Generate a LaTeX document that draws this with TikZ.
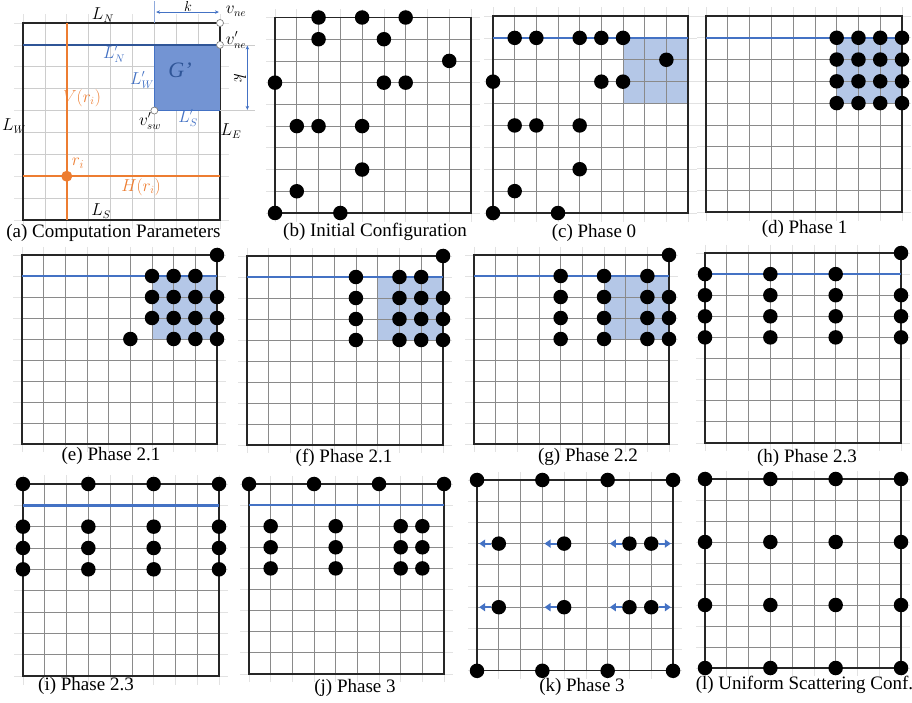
\documentclass[tikz,border=0pt]{standalone}
\usepackage{fontspec}
\setmainfont{Liberation Serif}
\usetikzlibrary{arrows.meta}
\definecolor{gridc}{HTML}{8A8A8A}
\definecolor{gridlt}{HTML}{CCCCCC}
\definecolor{gridext}{HTML}{E2E2E2}
\definecolor{bline}{HTML}{4472C4}
\definecolor{dblue}{HTML}{2F5597}
\definecolor{sqfill}{HTML}{B4C7E7}
\definecolor{gfill}{HTML}{7394D3}
\definecolor{orng}{HTML}{ED7D31}
\tikzset{
  framebox/.style={draw=black!85, line width=1.3pt},
  robot/.style={circle, fill=black, inner sep=0pt, minimum size=14.5pt},
  hollow/.style={circle, draw=gray, fill=white, line width=0.7pt, inner sep=0pt, minimum size=7pt},
  capt/.style={font=\fontsize{19}{22}\selectfont, inner sep=0pt},
  lbl/.style={font=\fontsize{16}{18}\selectfont, inner sep=0pt},
  toplinestyle/.style={draw=bline, line width=2.4pt},
  sqstyle/.style={fill=sqfill},
  barrow/.style={draw=bline, line width=2.2pt, -{Triangle[length=6pt,width=8pt]}},
  dimarrow/.style={draw=bline, line width=0.6pt, {Stealth[length=4pt,width=3.5pt]}-{Stealth[length=4pt,width=3.5pt]}},
}
\newcommand{\pgrid}[1]{%
  \foreach \i in {0,...,9} {
    \draw[draw=gridext, line width=0.7pt] (\i,-0.4) -- (\i,9.4);
    \draw[draw=gridext, line width=0.7pt] (-0.4,\i) -- (9.4,\i);
  }
  \foreach \i in {1,...,8} {
    \draw[draw=#1, line width=0.75pt] (\i,0) -- (\i,9);
    \draw[draw=#1, line width=0.75pt] (0,\i) -- (9,\i);
  }
  \draw[framebox] (0,0) rectangle (9,9);
}
\newcommand{\robots}[2]{%
  \foreach \c/\r in {#2} { \node[robot] (#1-\c-\r) at (\c,\r) {}; }
}
\begin{document}
\begin{tikzpicture}[x=1pt, y=-1pt]
\useasboundingbox (0,0) rectangle (912,703);

% ---------------- (a)
\begin{scope}[shift={(23,23)}, x=21.89pt, y=-21.89pt]
  \pgrid{gridlt}
  \fill[gfill] (6,1) rectangle (9,4);
  \draw[draw=bline, line width=0.8pt] (6,4) -- (6,1) (6,4) -- (9,4);
  \draw[draw=bline!60, line width=0.6pt] (6,-1) -- (6,0);
  \draw[draw=dblue, line width=2.4pt] (0,1) -- (9,1);
  \draw[draw=orng, line width=2.5pt] (2,0) -- (2,9);
  \draw[draw=orng, line width=2.5pt] (0,7) -- (9,7);
  \node[circle, fill=orng, inner sep=0pt, minimum size=11pt] (ri) at (2,7) {};
  \node[hollow] (vne) at (9,0) {};
  \node[hollow] (vnep) at (9,1) {};
  \node[hollow] (vsw) at (6,4) {};
  \draw[draw=gridlt, line width=0.6pt] (9,1) -- (10.6,1) (9,4) -- (10.6,4);
  \coordinate (kt1) at (6.08,-0.5);
  \coordinate (kt2) at (8.95,-0.5);
  \draw[dimarrow] (kt1) -- (kt2);
  \coordinate (kv1) at (10.25,1.03);
  \coordinate (kv2) at (10.25,3.97);
  \draw[dimarrow] (kv1) -- (kv2);
\end{scope}
\node[lbl] (lN) at (103,15) {$L_N$};
\node[lbl] (lW) at (14,126) {$L_W$};
\node[lbl] (lE) at (231,131) {$L_E$};
\node[lbl] (lS) at (101,211) {$L_S$};
\node[lbl, text=bline] (lNp) at (114,54) {$L'_N$};
\node[lbl, text=bline] (lWp) at (142,80) {$L'_W$};
\node[lbl, text=bline] (lSp) at (188,118) {$L'_S$};
\node[font=\fontsize{22}{24}\selectfont\itshape, text=dblue, inner sep=0pt] (Gp) at (180,70) {G’};
\node[lbl, text=orng] (Vr) at (82,98) {$V(r_i)$};
\node[lbl, text=orng, font=\fontsize{18}{20}\selectfont] (rl) at (78,163) {$r_i$};
\node[lbl, text=orng] (Hr) at (141,187) {$H(r_i)$};
\node[lbl] (vswl) at (150,121) {$v'_{sw}$};
\node[lbl] (vnel) at (236,11) {$v_{ne}$};
\node[lbl] (vnepl) at (236,40) {$v'_{ne}$};
\node[lbl, font=\fontsize{14}{16}\selectfont] (ktop) at (188,6.5) {$k$};
\node[lbl, rotate=-90] (kside) at (240,78) {$k$};
\node[capt] (capa) at (113.5,233) {(a) Computation Parameters};

% ---------------- (b)
\begin{scope}[shift={(275,17.5)}, x=21.78pt, y=-21.72pt]
  \pgrid{gridc}
  \robots{b}{2/0,4/0,6/0,2/1,5/1,8/2,0/3,5/3,6/3,1/5,2/5,4/5,4/7,1/8,0/9,3/9}
\end{scope}
\node[capt] (capb) at (375,232) {(b) Initial Configuration};

% ---------------- (c)
\begin{scope}[shift={(493,16)}, x=21.67pt, y=-21.89pt]
  \fill[sqstyle] (6,1) rectangle (9,4);
  \pgrid{gridc}
  \draw[toplinestyle] (0,1) -- (9,1);
  \robots{c}{1/1,2/1,4/1,5/1,6/1,8/2,0/3,5/3,6/3,1/5,2/5,4/5,4/7,1/8,0/9,3/9}
\end{scope}
\node[capt] (capc) at (594,233) {(c) Phase 0};

% ---------------- (d)
\begin{scope}[shift={(706,16)}, x=21.78pt, y=-21.78pt]
  \fill[sqstyle] (6,1) rectangle (9,4);
  \pgrid{gridc}
  \draw[toplinestyle] (0,1) -- (9,1);
  \robots{d}{6/1,7/1,8/1,9/1,6/2,7/2,8/2,9/2,6/3,7/3,8/3,9/3,6/4,7/4,8/4,9/4}
\end{scope}
\node[capt] (capd) at (804.5,229) {(d) Phase 1};

% ---------------- (e)
\begin{scope}[shift={(22,255)}, x=21.67pt, y=-21.0pt]
  \fill[sqstyle] (6,1) rectangle (9,4);
  \pgrid{gridc}
  \draw[toplinestyle] (0,1) -- (9,1);
  \robots{e}{9/0,6/1,7/1,8/1,6/2,7/2,8/2,9/2,6/3,7/3,8/3,9/3,5/4,7/4,8/4,9/4}
\end{scope}
\node[capt] (cape) at (111,456) {(e) Phase 2.1};

% ---------------- (f)
\begin{scope}[shift={(247,256)}, x=21.78pt, y=-21.0pt]
  \fill[sqstyle] (6,1) rectangle (9,4);
  \pgrid{gridc}
  \draw[toplinestyle] (0,1) -- (9,1);
  \robots{f}{9/0,5/1,5/2,5/3,5/4,7/1,8/1,7/2,8/2,9/2,7/3,8/3,9/3,7/4,8/4,9/4}
\end{scope}
\node[capt] (capf) at (344,458) {(f) Phase 2.1};

% ---------------- (g)
\begin{scope}[shift={(474,255)}, x=21.67pt, y=-21.0pt]
  \fill[sqstyle] (6,1) rectangle (9,4);
  \pgrid{gridc}
  \draw[toplinestyle] (0,1) -- (9,1);
  \robots{g}{9/0,4/1,4/2,4/3,4/4,6/1,6/2,6/3,6/4,8/1,8/2,8/3,8/4,9/2,9/3,9/4}
\end{scope}
\node[capt] (capg) at (588,457) {(g) Phase 2.2};

% ---------------- (h)
\begin{scope}[shift={(705,253)}, x=21.78pt, y=-21.1pt]
  \pgrid{gridc}
  \draw[toplinestyle] (0,1) -- (9,1);
  \robots{h}{9/0,0/1,0/2,0/3,0/4,3/1,3/2,3/3,3/4,6/1,6/2,6/3,6/4,9/2,9/3,9/4}
\end{scope}
\node[capt] (caph) at (807,458) {(h) Phase 2.3};

% ---------------- (i)
\begin{scope}[shift={(23,484)}, x=21.78pt, y=-21.33pt]
  \pgrid{gridc}
  \draw[toplinestyle] (0,1) -- (9,1);
  \robots{i}{0/0,3/0,6/0,9/0,0/2,3/2,6/2,9/2,0/3,3/3,6/3,9/3,0/4,3/4,6/4,9/4}
\end{scope}
\node[capt] (capi) at (86,686) {(i) Phase 2.3};

% ---------------- (j)
\begin{scope}[shift={(249,484)}, x=21.67pt, y=-21.1pt]
  \pgrid{gridc}
  \draw[toplinestyle] (0,1) -- (9,1);
  \robots{j}{0/0,3/0,6/0,9/0,1/2,4/2,7/2,8/2,1/3,4/3,7/3,8/3,1/4,4/4,7/4,8/4}
\end{scope}
\node[capt] (capj) at (355,688) {(j) Phase 3};

% ---------------- (k)
\begin{scope}[shift={(477,480)}, x=21.78pt, y=-21.2pt]
  \pgrid{gridc}
  \robots{k}{0/0,3/0,6/0,9/0,0/9,3/9,6/9,9/9,1/3,4/3,7/3,8/3,1/6,4/6,7/6,8/6}
  \foreach \c/\t in {1/0.1,4/3.1,7/6.1} {
    \foreach \r in {3,6} {
      \coordinate (kl-\c-\r) at (\t,\r);
      \draw[barrow] (k-\c-\r.west) -- (kl-\c-\r);
    }
  }
  \foreach \r in {3,6} {
    \coordinate (kr-8-\r) at (8.9,\r);
    \draw[barrow] (k-8-\r.east) -- (kr-8-\r);
  }
\end{scope}
\node[capt] (capk) at (582,687) {(k) Phase 3};

% ---------------- (l)
\begin{scope}[shift={(705,479)}, x=21.78pt, y=-21.0pt]
  \pgrid{gridc}
  \robots{l}{0/0,3/0,6/0,9/0,0/3,3/3,6/3,9/3,0/6,3/6,6/6,9/6,0/9,3/9,6/9,9/9}
\end{scope}
\node[capt] (capl) at (804.5,685) {(l) Uniform Scattering Conf.};

\end{tikzpicture}
\end{document}
